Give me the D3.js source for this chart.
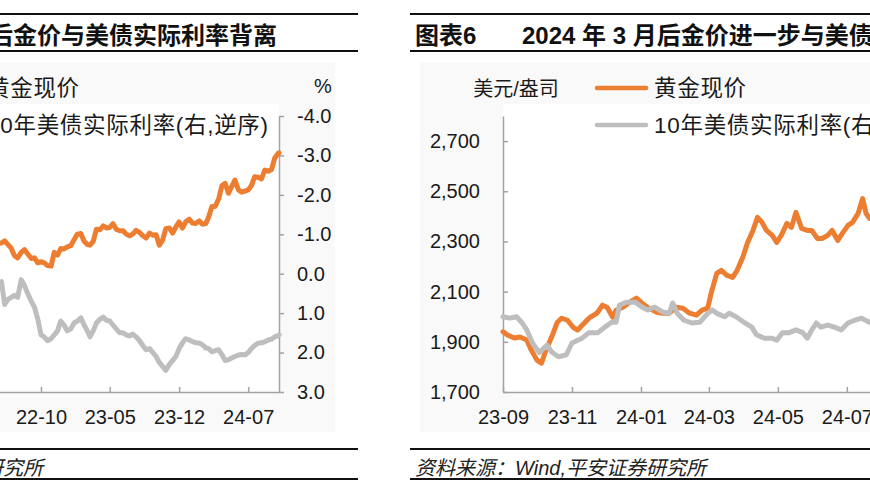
<!DOCTYPE html>
<html><head><meta charset="utf-8">
<script src="https://cdn.jsdelivr.net/npm/d3@7"></script>
<style>
body{margin:0;background:#fff;}
svg{display:block;font-family:"Liberation Sans","Noto Sans CJK SC",sans-serif;}
</style></head>
<body><svg id="c" width="870" height="492"></svg>
<script>
// ---------- DATA ----------
// Left panel: gold spot (USD/oz, left axis) and 10Y US real rate (%, right axis, reversed)
const leftDates = [
"2022-03-01","2022-03-11","2022-03-21","2022-04-01","2022-04-11","2022-04-21","2022-05-01","2022-05-11","2022-05-21",
"2022-06-01","2022-06-11","2022-06-21","2022-07-01","2022-07-11","2022-07-21","2022-08-01","2022-08-11","2022-08-21",
"2022-09-01","2022-09-11","2022-09-21","2022-10-01","2022-10-11","2022-10-21","2022-11-01","2022-11-11","2022-11-21",
"2022-12-01","2022-12-11","2022-12-21","2023-01-01","2023-01-11","2023-01-21","2023-02-01","2023-02-11","2023-02-21",
"2023-03-01","2023-03-11","2023-03-21","2023-04-01","2023-04-11","2023-04-21","2023-05-01","2023-05-11","2023-05-21",
"2023-06-01","2023-06-11","2023-06-21","2023-07-01","2023-07-11","2023-07-21","2023-08-01","2023-08-11","2023-08-21",
"2023-09-01","2023-09-11","2023-09-21","2023-10-01","2023-10-11","2023-10-21","2023-11-01","2023-11-11","2023-11-21",
"2023-12-01","2023-12-11","2023-12-21","2024-01-01","2024-01-11","2024-01-21","2024-02-01","2024-02-11","2024-02-21",
"2024-03-01","2024-03-11","2024-03-21","2024-04-01","2024-04-11","2024-04-21","2024-05-01","2024-05-11","2024-05-21",
"2024-06-01","2024-06-11","2024-06-21","2024-07-01","2024-07-11","2024-07-21","2024-08-01","2024-08-11","2024-08-21",
"2024-09-01","2024-09-11","2024-09-21","2024-10-01","2024-10-04"];
const leftGold = [
1945,1990,1935,1925,1955,1950,1895,1850,1845,
1850,1870,1835,1805,1735,1715,1765,1790,1750,
1710,1715,1670,1680,1670,1645,1640,1765,1740,
1800,1795,1815,1825,1880,1930,1935,1865,1835,
1830,1865,1975,1970,2005,1985,1990,2025,1975,
1960,1960,1930,1915,1930,1965,1945,1915,1895,
1940,1920,1925,1830,1875,1980,1985,1940,1995,
2040,1985,2040,2065,2030,2025,2050,2020,2025,
2085,2180,2180,2250,2370,2390,2300,2360,2420,
2330,2310,2320,2330,2370,2450,2445,2430,2510,
2500,2515,2620,2660,2665];
const leftRate = [
-0.75,-0.95,-0.65,-0.5,-0.15,-0.1,0.05,0.2,0.25,
0.2,0.78,0.65,0.6,0.55,0.6,0.15,0.3,0.5,
0.7,0.85,1.15,1.55,1.6,1.7,1.65,1.55,1.45,
1.2,1.3,1.45,1.4,1.25,1.2,1.12,1.3,1.45,
1.6,1.45,1.25,1.15,1.1,1.18,1.2,1.3,1.4,
1.5,1.5,1.55,1.58,1.53,1.6,1.7,1.82,1.93,
1.9,2.0,2.1,2.25,2.35,2.45,2.3,2.2,2.1,
1.9,1.76,1.65,1.68,1.72,1.75,1.76,1.8,1.88,
1.9,1.98,1.95,1.93,2.05,2.2,2.18,2.14,2.1,
2.06,2.05,2.06,2.0,1.9,1.82,1.76,1.75,1.73,
1.68,1.66,1.6,1.57,1.55];

// Right panel
const rightGoldDates = ["2023-09-01","2023-09-05","2023-09-11","2023-09-16","2023-09-22","2023-09-26","2023-10-01","2023-10-05","2023-10-09","2023-10-14","2023-10-19","2023-10-23","2023-10-28","2023-11-02","2023-11-06","2023-11-10","2023-11-16","2023-11-23","2023-11-28","2023-12-02","2023-12-07","2023-12-10","2023-12-16","2023-12-22","2023-12-28","2024-01-02","2024-01-08","2024-01-15","2024-01-20","2024-01-26","2024-02-01","2024-02-07","2024-02-13","2024-02-19","2024-02-24","2024-02-29","2024-03-03","2024-03-08","2024-03-12","2024-03-17","2024-03-22","2024-03-26","2024-03-31","2024-04-04","2024-04-09","2024-04-13","2024-04-17","2024-04-21","2024-04-26","2024-04-30","2024-05-04","2024-05-09","2024-05-13","2024-05-17","2024-05-22","2024-05-27","2024-05-31","2024-06-05","2024-06-09","2024-06-14","2024-06-18","2024-06-23","2024-06-27","2024-07-02","2024-07-06","2024-07-11","2024-07-15","2024-07-18","2024-07-21","2024-08-01","2024-08-15","2024-09-01","2024-09-15","2024-10-01"];
const rightGold = [1940,1927,1915,1919,1907,1867,1827,1815,1867,1919,1978,1994,1986,1958,1947,1966,1994,2014,2046,2038,1998,2026,2038,2058,2074,2054,2034,2018,2014,2014,2038,2034,2014,2006,2026,2034,2094,2173,2185,2165,2157,2185,2237,2293,2344,2396,2376,2344,2324,2296,2324,2372,2356,2416,2352,2344,2344,2312,2312,2324,2344,2304,2332,2364,2376,2412,2471,2412,2392,2450,2460,2500,2580,2650];
const rightRateDates = ["2023-09-01","2023-09-07","2023-09-13","2023-09-18","2023-09-22","2023-09-27","2023-10-03","2023-10-10","2023-10-14","2023-10-20","2023-10-27","2023-11-01","2023-11-06","2023-11-10","2023-11-16","2023-11-24","2023-11-30","2023-12-06","2023-12-10","2023-12-13","2023-12-19","2023-12-27","2024-01-02","2024-01-07","2024-01-13","2024-01-20","2024-01-26","2024-01-29","2024-02-02","2024-02-08","2024-02-15","2024-02-22","2024-02-29","2024-03-04","2024-03-08","2024-03-15","2024-03-19","2024-03-25","2024-04-02","2024-04-08","2024-04-12","2024-04-19","2024-04-26","2024-04-30","2024-05-05","2024-05-11","2024-05-17","2024-05-23","2024-05-27","2024-05-31","2024-06-04","2024-06-08","2024-06-14","2024-06-20","2024-06-26","2024-07-02","2024-07-08","2024-07-14","2024-07-21","2024-08-01","2024-08-15","2024-09-01","2024-09-15","2024-10-01"];
const rightRate = [1.91,1.93,1.91,2.0,2.1,2.29,2.43,2.32,2.42,2.49,2.46,2.29,2.25,2.22,2.14,2.14,2.06,1.99,1.99,1.74,1.70,1.70,1.77,1.81,1.77,1.84,1.86,1.71,1.86,1.96,2.0,1.99,1.86,1.81,1.86,1.91,1.86,1.91,2.0,2.06,2.17,2.22,2.22,2.25,2.14,2.14,2.1,2.14,2.22,2.1,2.0,2.06,2.03,2.06,2.1,2.0,1.96,1.93,1.99,1.9,1.8,1.75,1.6,1.6];

// Ticks / labels
const leftXTicks = ["2022-03-01","2022-10-01","2023-05-01","2023-12-01","2024-07-01"];
const leftRateTicks = [-4,-3,-2,-1,0,1,2,3];
const leftGoldTicks = [500,1000,1500,2000,2500,3000];
const rightXTicks = ["2023-09-01","2023-11-01","2024-01-01","2024-03-01","2024-05-01","2024-07-01","2024-09-01"];
const rightGoldTicks = [1700,1900,2100,2300,2500,2700];
const rightRateTicks = [-1,0,1,2,3];
const seriesNames = ["黄金现价","10年美债实际利率(右,逆序)"];
const leftTitle = ["图表5","2022 年 3 月后金价与美债实际利率背离"];
const rightTitle = ["图表6","2024 年 3 月后金价进一步与美债实际利率背离"];
const sourceText = "资料来源：Wind,平安证券研究所";
const unitLeft = "美元/盎司", unitRight = "%";

// ---------- DRAW ----------
const parse = d3.timeParse("%Y-%m-%d");
const svg = d3.select("#c");
const ORANGE = "#ED7D31", GRAY = "#BEBEBE", AXIS = "#a3a3a3", TXT = "#1a1a1a";
const fmt1 = d => d.toFixed(1);
const fmtK = d3.format(",");
const yTop = 116, yBot = 392;

function styleAxis(g){
  g.attr("font-family", null).attr("font-size", 20);
  g.select(".domain").attr("stroke", AXIS).attr("stroke-width", 1.5);
  g.selectAll(".tick line").attr("stroke", AXIS).attr("stroke-width", 1.5);
  g.selectAll(".tick text").attr("fill", TXT);
}

function panel(cfg){
  const g = svg.append("g");
  // faint chart-area background
  g.append("rect").attr("x", cfg.bgX0).attr("y", 62).attr("width", cfg.bgX1 - cfg.bgX0).attr("height", 370).attr("fill", "#f9f9f9");
  g.append("rect").attr("x", cfg.plotX0).attr("y", 104).attr("width", cfg.plotX1 - cfg.plotX0).attr("height", yBot - 104).attr("fill", "#ffffff");

  // rules
  [14, 51, 449, 479].forEach(y => g.append("line").attr("x1", cfg.ruleX0).attr("x2", cfg.ruleX1)
     .attr("y1", y).attr("y2", y).attr("stroke", "#111").attr("stroke-width", 2.2));

  // title
  const t = g.append("text").attr("y", 44).attr("font-size", 24).attr("font-weight", "bold").attr("fill", "#111");
  if (cfg.titleAnchorEnd != null){
    t.attr("x", cfg.titleAnchorEnd).attr("text-anchor", "end").text(cfg.title[0] + "      " + cfg.title[1]);
  } else {
    t.attr("x", cfg.titleX).text(cfg.title[0]);
    g.append("text").attr("x", cfg.titleX2).attr("y", 44).attr("font-size", 24).attr("font-weight", "bold")
      .attr("fill", "#111").text(cfg.title[1]);
  }

  const x = d3.scaleTime().domain(cfg.xDomain.map(parse)).range(cfg.xRange);
  const yG = d3.scaleLinear().domain(cfg.goldDomain).range([yBot, yTop]);
  const yR = d3.scaleLinear().domain(cfg.rateDomain).range([yTop, yBot]); // reversed

  // axes
  const xa = g.append("g").attr("transform", `translate(0,${yBot})`)
    .call(d3.axisBottom(x).tickValues(cfg.xTicks.map(parse)).tickSize(-5).tickSizeOuter(0)
      .tickPadding(18).tickFormat(d3.timeFormat("%y-%m")));
  styleAxis(xa);
  const ga = g.append("g").attr("transform", `translate(${cfg.xRange[0]},0)`)
    .call(d3.axisLeft(yG).tickValues(cfg.goldTicks).tickSize(-5).tickSizeOuter(0).tickPadding(23).tickFormat(fmtK));
  styleAxis(ga);
  const ra = g.append("g").attr("transform", `translate(${cfg.xRange[1]},0)`)
    .call(d3.axisRight(yR).tickValues(cfg.rateTicks).tickSize(5).tickSizeOuter(0).tickPadding(13).tickFormat(fmt1));
  styleAxis(ra);

  // units
  g.append("text").attr("x", cfg.unitX).attr("y", 96).attr("text-anchor", "middle")
    .attr("font-size", 20).attr("fill", TXT).text(unitLeft);
  g.append("text").attr("x", cfg.xRange[1] + 44).attr("y", 93).attr("text-anchor", "middle")
    .attr("font-size", 20).attr("fill", TXT).text(unitRight);

  // lines
  const goldPts = cfg.goldDates.map((d,i) => ({d: parse(d), v: cfg.gold[i]}));
  const ratePts = cfg.rateDates.map((d,i) => ({d: parse(d), v: cfg.rate[i]}));
  g.append("path").datum(goldPts).attr("fill", "none").attr("stroke", ORANGE).attr("stroke-width", 5)
    .attr("stroke-linejoin", "round").attr("stroke-linecap", "round")
    .attr("d", d3.line().x(p => x(p.d)).y(p => yG(p.v)));
  g.append("path").datum(ratePts).attr("fill", "none").attr("stroke", GRAY).attr("stroke-width", 5)
    .attr("stroke-linejoin", "round").attr("stroke-linecap", "round")
    .attr("d", d3.line().x(p => x(p.d)).y(p => yR(p.v)));

  // legend
  const lx = cfg.legendX;
  [[ORANGE, 88], [GRAY, 125]].forEach((s, i) => {
    g.append("line").attr("x1", lx - 57).attr("x2", lx - 8).attr("y1", s[1]).attr("y2", s[1])
      .attr("stroke", s[0]).attr("stroke-width", 4.5).attr("stroke-linecap", "round");
    g.append("text").attr("x", lx).attr("y", s[1] + 8).attr("font-size", 22.5).attr("letter-spacing", 0.7)
      .attr("fill", TXT).text(seriesNames[i]);
  });

  // source
  const s = g.append("text").attr("y", 475).attr("font-size", 20).attr("font-style", "italic").attr("fill", "#222").text(sourceText);
  if (cfg.sourceEnd != null) s.attr("x", cfg.sourceEnd).attr("text-anchor", "end");
  else s.attr("x", cfg.sourceX);
}

// Left panel (partially outside the page on the left)
panel({
  ruleX0: -460, ruleX1: 358, bgX0: -440, bgX1: 335, plotX0: -28.4, plotX1: 279,
  title: leftTitle, titleAnchorEnd: 277,
  xDomain: ["2022-03-01","2024-10-04"], xRange: [-28.4, 279],
  goldDomain: [500, 3000], rateDomain: [-4, 3],
  xTicks: leftXTicks, goldTicks: leftGoldTicks, rateTicks: leftRateTicks,
  goldDates: leftDates, gold: leftGold, rateDates: leftDates, rate: leftRate,
  legendX: -13, unitX: -170, sourceEnd: 43
});

// Right panel (partially outside the page on the right)
panel({
  ruleX0: 410, ruleX1: 1300, bgX0: 420, bgX1: 1300, plotX0: 503, plotX1: 954,
  title: rightTitle, titleX: 415, titleX2: 522,
  xDomain: ["2023-09-01","2024-10-04"], xRange: [503, 954.3],
  goldDomain: [1700, 2800], rateDomain: [-1, 3],
  xTicks: rightXTicks, goldTicks: rightGoldTicks, rateTicks: rightRateTicks,
  goldDates: rightGoldDates, gold: rightGold, rateDates: rightRateDates, rate: rightRate,
  legendX: 654, unitX: 516, sourceX: 415
});
</script>
</body></html>
